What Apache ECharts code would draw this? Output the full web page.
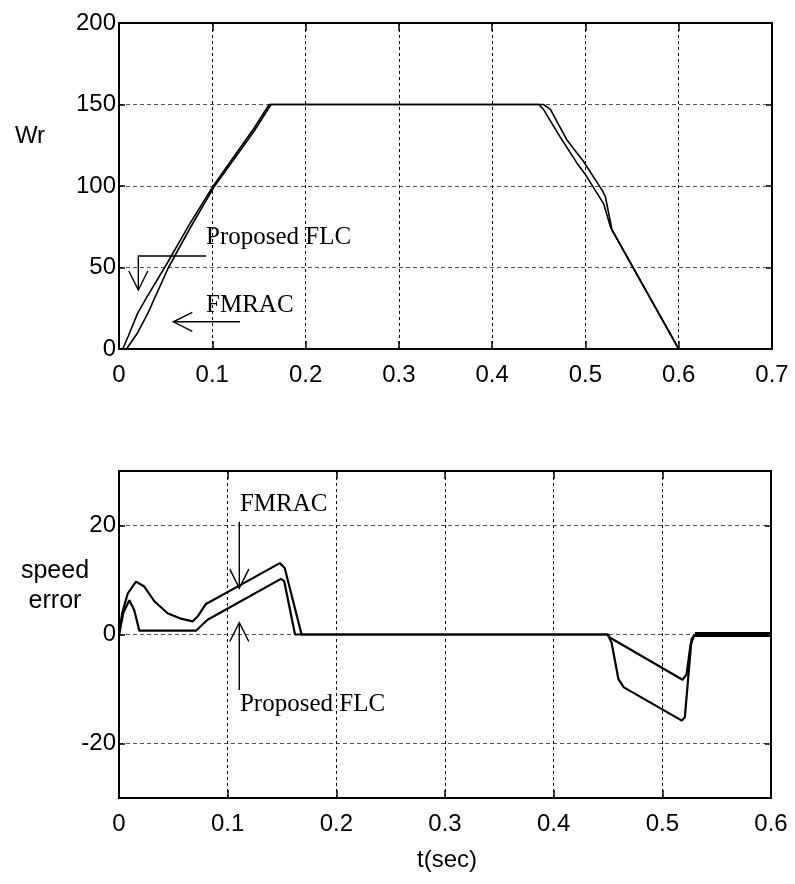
<!DOCTYPE html>
<html>
<head>
<meta charset="utf-8">
<title>Wr / speed error</title>
<script src="https://cdn.jsdelivr.net/npm/echarts@6/dist/echarts.min.js"></script>
<style>
  html, body { margin: 0; padding: 0; background: #fff; }
  #chart { width: 795px; height: 884px; }
</style>
</head>
<body>
<div id="chart"></div>
<script>
// rotor speed Wr, top plot
const tTopFlc = [0, 0.004, 0.01, 0.02, 0.03, 0.051, 0.075, 0.101, 0.143, 0.161, 0.45, 0.455, 0.473, 0.491, 0.5, 0.5196, 0.5268, 0.5285, 0.6]
const wrFlc = [0, 0, 8, 22, 32, 52, 76, 100, 134, 150, 150, 147, 130, 114, 107, 89, 75, 73, 0]
const tTopFmrac = [0, 0.008, 0.02, 0.031, 0.053, 0.077, 0.102, 0.144, 0.163, 0.455, 0.4625, 0.4804, 0.498, 0.5178, 0.5214, 0.5285, 0.6]
const wrFmrac = [0, 0, 10, 22, 50, 75, 99.5, 133, 150, 150, 147, 128, 115, 97.5, 93.4, 73, 0]

// speed error, bottom plot
const tErrFmrac = [0, 0.003, 0.008, 0.0156, 0.0233, 0.0325, 0.0447, 0.057, 0.0677, 0.0723, 0.08, 0.112, 0.148, 0.1525, 0.168, 0.445, 0.4497, 0.4533, 0.4596, 0.4646, 0.518, 0.5207, 0.5269, 0.53]
const errFmrac = [0, 4, 7.5, 9.7, 8.8, 6.1, 3.9, 2.9, 2.4, 3.3, 5.6, 9.1, 13.1, 12.2, 0, 0, 0, -1.5, -8.2, -9.7, -15.8, -15.2, -0.8, 0]
const tErrFlc = [0, 0.004, 0.0095, 0.014, 0.0187, 0.0708, 0.0815, 0.149, 0.152, 0.162, 0.445, 0.4497, 0.452, 0.5186, 0.5223, 0.526, 0.529, 0.53]
const errFlc = [0, 4, 6.3, 4.5, 0.7, 0.7, 2.7, 10.2, 9.8, 0, 0, 0, -0.6, -8.3, -7.3, -1.8, -0.4, 0]
// steady state chattering after 0.53 s
const tChatter = [0.53, 0.6]
const errChatter = [0, 0]

// tick labels
const topXTicks = [0, 0.1, 0.2, 0.3, 0.4, 0.5, 0.6, 0.7]
const topYTicks = [0, 50, 100, 150, 200]
const botXTicks = [0, 0.1, 0.2, 0.3, 0.4, 0.5, 0.6]
const botYTicks = [-20, 0, 20]

// annotations (data coords): arrows are polylines, head at the last point
const topArrows = [
  [[0.0933, 57.1], [0.0207, 57.1], [0.0207, 36.2]],
  [[0.1297, 16.7], [0.0582, 16.7]]
]
const topLabels = [['Proposed FLC', 0.0933, 68.7], ['FMRAC', 0.0933, 27]]
const botArrows = [
  [[0.1107, 20.7], [0.1107, 8.5]],
  [[0.1107, -10.2], [0.1107, 2.2]]
]
const botLabels = [['FMRAC', 0.1113, 23.9], ['Proposed FLC', 0.1113, -12.8]]

function zip(xs, ys) {
  return xs.map((x, i) => [x, ys[i]])
}

const labelFont = {
  color: '#000',
  fontFamily: '"Liberation Sans", Arial, sans-serif',
  fontSize: 24
}

function xAxisFor(gridIndex, ticks, bottom) {
  return {
    type: 'value',
    gridIndex: gridIndex,
    position: bottom ? 'bottom' : 'top',
    min: ticks[0],
    max: ticks[ticks.length - 1],
    interval: 0.1,
    axisLine: { show: true, onZero: false, lineStyle: { color: '#000', width: 2 } },
    axisTick: { show: true, inside: true, length: 8, lineStyle: { color: '#000', width: 1.5 } },
    axisLabel: {
      show: bottom,
      margin: 14,
      ...labelFont,
      formatter: v => String(+v.toFixed(1))
    },
    splitLine: bottom ? { show: true, lineStyle: { color: '#000', width: 1, type: [3, 3] } } : { show: false }
  }
}

function yAxisFor(gridIndex, ticks, min, max, interval, left) {
  return {
    type: 'value',
    gridIndex: gridIndex,
    position: left ? 'left' : 'right',
    min: min,
    max: max,
    interval: interval,
    axisLine: { show: true, onZero: false, lineStyle: { color: '#000', width: 2 } },
    axisTick: { show: true, inside: true, length: 6, customValues: ticks, lineStyle: { color: '#000', width: 1.5 } },
    axisLabel: { show: left, margin: 3, customValues: ticks, ...labelFont },
    splitLine: left ? { show: true, lineStyle: { color: '#555', width: 1, type: [4, 3] } } : { show: false }
  }
}

function lineSeries(name, data, xi, yi, width) {
  return {
    name: name,
    type: 'line',
    xAxisIndex: xi,
    yAxisIndex: yi,
    data: data,
    showSymbol: false,
    symbol: 'none',
    lineStyle: { color: '#000', width: width },
    z: 3
  }
}

function annotate(arrows, labels) {
  return function (params, api) {
    const children = []
    const stroke = { stroke: '#000', lineWidth: 1.4, fill: null }
    arrows.forEach(a => {
      const pts = a.map(p => api.coord(p))
      children.push({ type: 'polyline', shape: { points: pts }, style: stroke })
      const tip = pts[pts.length - 1]
      const prev = pts[pts.length - 2]
      const len = Math.hypot(tip[0] - prev[0], tip[1] - prev[1])
      const ux = (tip[0] - prev[0]) / len
      const uy = (tip[1] - prev[1]) / len
      const bx = tip[0] - ux * 19
      const by = tip[1] - uy * 19
      children.push({
        type: 'polyline',
        shape: { points: [[bx - uy * 9.5, by + ux * 9.5], tip, [bx + uy * 9.5, by - ux * 9.5]] },
        style: stroke
      })
    })
    labels.forEach(l => {
      const p = api.coord([l[1], l[2]])
      children.push({
        type: 'text',
        x: p[0],
        y: p[1],
        style: {
          text: l[0],
          fill: '#000',
          font: '25px "Liberation Serif", "Times New Roman", serif',
          align: 'left',
          verticalAlign: 'middle'
        }
      })
    })
    return { type: 'group', children: children }
  }
}

const chart = echarts.init(document.getElementById('chart'), null, { renderer: 'canvas' })

chart.setOption({
  animation: false,
  backgroundColor: '#fff',
  grid: [
    { left: 119, top: 23, width: 653, height: 326 },
    { left: 119, top: 471, width: 652, height: 327 }
  ],
  xAxis: [
    xAxisFor(0, topXTicks, true),
    xAxisFor(0, topXTicks, false),
    xAxisFor(1, botXTicks, true),
    xAxisFor(1, botXTicks, false)
  ],
  yAxis: [
    yAxisFor(0, topYTicks, 0, 200, 50, true),
    yAxisFor(0, topYTicks, 0, 200, 50, false),
    yAxisFor(1, botYTicks, -30, 30, 10, true),
    yAxisFor(1, botYTicks, -30, 30, 10, false)
  ],
  graphic: [
    { type: 'text', x: 30, y: 136, style: { text: 'Wr', fill: '#000', font: '24px "Liberation Sans", Arial', align: 'center', verticalAlign: 'middle' } },
    { type: 'text', x: 55, y: 571, style: { text: 'speed', fill: '#000', font: '25px "Liberation Sans", Arial', align: 'center', verticalAlign: 'middle' } },
    { type: 'text', x: 55, y: 601, style: { text: 'error', fill: '#000', font: '25px "Liberation Sans", Arial', align: 'center', verticalAlign: 'middle' } },
    { type: 'text', x: 447, y: 860, style: { text: 't(sec)', fill: '#000', font: '24px "Liberation Sans", Arial', align: 'center', verticalAlign: 'middle' } }
  ],
  series: [
    lineSeries('Proposed FLC', zip(tTopFlc, wrFlc), 0, 0, 1.6),
    lineSeries('FMRAC', zip(tTopFmrac, wrFmrac), 0, 0, 1.6),
    lineSeries('Proposed FLC', zip(tErrFlc, errFlc), 2, 2, 2.2),
    lineSeries('FMRAC', zip(tErrFmrac, errFmrac), 2, 2, 2.2),
    lineSeries('chatter', zip(tChatter, errChatter), 2, 2, 5),
    {
      type: 'custom',
      xAxisIndex: 0,
      yAxisIndex: 0,
      silent: true,
      clip: false,
      z: 5,
      data: [[0, 0]],
      renderItem: annotate(topArrows, topLabels)
    },
    {
      type: 'custom',
      xAxisIndex: 2,
      yAxisIndex: 2,
      silent: true,
      clip: false,
      z: 5,
      data: [[0, 0]],
      renderItem: annotate(botArrows, botLabels)
    }
  ]
})
</script>
</body>
</html>
